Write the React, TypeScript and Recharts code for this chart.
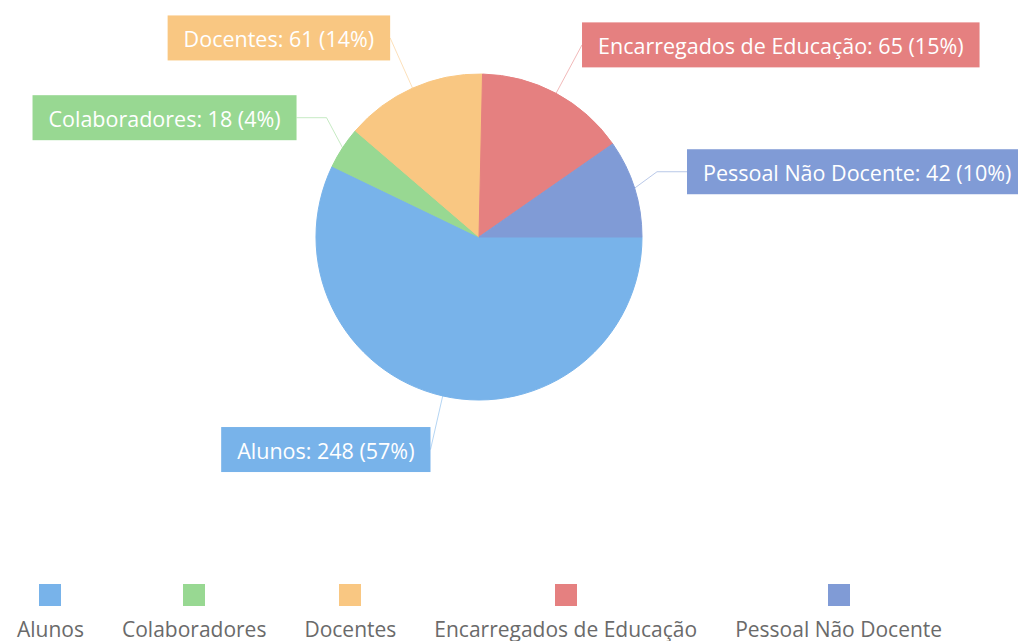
import React from "react";
import { PieChart, Pie, Cell, Legend } from "recharts";

const categories = [
  "Alunos",
  "Colaboradores",
  "Docentes",
  "Encarregados de Educação",
  "Pessoal Não Docente",
];
const counts = [248, 18, 61, 65, 42];
const colors = ["#78b3ea", "#98d892", "#f9c782", "#e58080", "#809bd6"];

const chartData = categories.map((name, i) => ({ name, value: counts[i] }));

const FONT = "'Open Sans', 'Noto Sans', sans-serif";
const LABEL_SIZE = 21.5;
const RAD = Math.PI / 180;

let ctx: CanvasRenderingContext2D | null = null;
const measure = (text: string, size: number) => {
  if (!ctx) ctx = document.createElement("canvas").getContext("2d");
  if (!ctx) return text.length * size * 0.55;
  ctx.font = `${size}px 'Open Sans'`;
  return ctx.measureText(text).width;
};

const renderLabel = (props: any) => {
  const { cx, cy, midAngle, outerRadius, value, percent } = props;
  const name = props.payload?.name ?? props.name;
  const color = colors[categories.indexOf(name)];
  const cos = Math.cos(-midAngle * RAD);
  const sin = Math.sin(-midAngle * RAD);
  const x0 = cx + outerRadius * cos;
  const y0 = cy + outerRadius * sin;
  const x2 = cx + (outerRadius + 55) * cos;
  const y2 = cy + (outerRadius + 55) * sin;
  const right = cos >= 0;
  const dir = right ? 1 : -1;
  // flatter slices get an elbow in the connector
  const bend = Math.abs(sin) < 0.8;
  const x1 = bend ? x2 - dir * 30 : x2;
  const text = `${name}: ${value} (${Math.round(percent * 100)}%)`;
  const w = measure(text, LABEL_SIZE) + 32;
  const h = 45;
  const bx = right ? x2 : x2 - w;
  return (
    <g>
      <polyline
        points={`${x0},${y0} ${x1},${y2} ${x2},${y2}`}
        fill="none"
        stroke={color}
        strokeOpacity={0.55}
        strokeWidth={1}
      />
      <rect x={bx} y={y2 - h / 2} width={w} height={h} fill={color} />
      <text
        x={bx + w / 2}
        y={y2 + 1}
        textAnchor="middle"
        dominantBaseline="central"
        fill="#ffffff"
        fontFamily={FONT}
        fontSize={LABEL_SIZE}
      >
        {text}
      </text>
    </g>
  );
};

const renderLegend = () => (
  <div style={{ display: "flex", gap: 38, paddingLeft: 17, fontFamily: FONT }}>
    {categories.map((c, i) => (
      <div
        key={c}
        style={{ display: "flex", flexDirection: "column", alignItems: "center" }}
      >
        <div style={{ width: 22, height: 22, background: colors[i] }} />
        <div style={{ marginTop: 11, lineHeight: "24px", fontSize: 21, color: "#6a6a6a" }}>
          {c}
        </div>
      </div>
    ))}
  </div>
);

const App = () => {
  return (
    <div style={{ position: "absolute", left: 0, top: 0 }}>
      <PieChart width={1018} height={641} margin={{ top: 0, right: 0, bottom: 0, left: 0 }}>
        <Pie
          data={chartData}
          dataKey="value"
          nameKey="name"
          cx={479}
          cy={237}
          outerRadius={163}
          startAngle={0}
          endAngle={-360}
          label={renderLabel}
          labelLine={false}
          isAnimationActive={false}
        >
          {chartData.map((d, i) => (
            <Cell key={d.name} fill={colors[i]} stroke={colors[i]} />
          ))}
        </Pie>
        <Legend
          content={renderLegend}
          wrapperStyle={{ position: "absolute", left: 0, top: 584, width: 1018 }}
        />
      </PieChart>
    </div>
  );
};

export default App;
